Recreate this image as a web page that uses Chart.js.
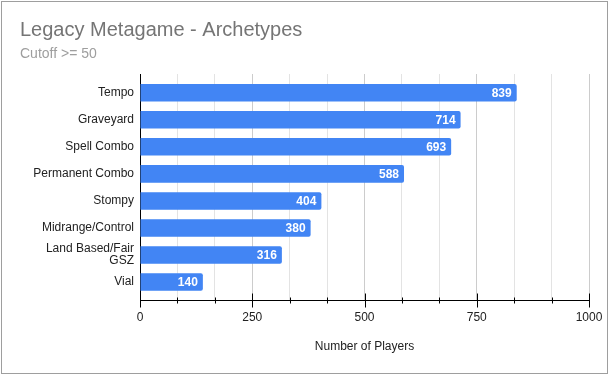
<!DOCTYPE html>
<html>
<head>
<meta charset="utf-8">
<script src="https://cdn.jsdelivr.net/npm/chart.js@4.4.1/dist/chart.umd.min.js"></script>
<style>
html,body{margin:0;padding:0;background:#fff;}
#wrap{width:609px;height:375px;position:relative;}
</style>
</head>
<body>
<div id="wrap"><canvas id="c" width="609" height="375"></canvas></div>
<script>
const categories = ["Tempo", "Graveyard", "Spell Combo", "Permanent Combo", "Stompy", "Midrange/Control", "Land Based/Fair GSZ", "Vial"];
const categoryLines = [["Tempo"], ["Graveyard"], ["Spell Combo"], ["Permanent Combo"], ["Stompy"], ["Midrange/Control"], ["Land Based/Fair", "GSZ"], ["Vial"]];
const players = [839, 714, 693, 588, 404, 380, 316, 140];
const xTickLabels = ["0", "250", "500", "750", "1000"];
const xMax = 1000;
const minorPerMajor = 3;

const FONT = "Arial, 'Liberation Sans', sans-serif";

const borderPlugin = {
  id: 'frame',
  afterDraw(chart) {
    const ctx = chart.ctx;
    ctx.save();
    ctx.strokeStyle = '#9e9e9e';
    ctx.lineWidth = 1;
    ctx.strokeRect(1.5, 1.5, 606, 372);
    ctx.restore();
  }
};

const tickPlugin = {
  id: 'axisTicks',
  afterDraw(chart) {
    const xs = chart.scales.x;
    const ctx = chart.ctx;
    const yAxis = Math.round(chart.chartArea.bottom) + 0.5;
    ctx.save();
    ctx.strokeStyle = '#000';
    ctx.lineWidth = 1;
    xs.ticks.forEach((t, i) => {
      const px = Math.round(xs.getPixelForValue(t.value)) + 0.5;
      const major = i % minorPerMajor === 0;
      const h = major ? 7 : 3;
      ctx.beginPath();
      ctx.moveTo(px, yAxis - h);
      ctx.lineTo(px, yAxis + h);
      ctx.stroke();
    });
    ctx.restore();
  }
};

const labelPlugin = {
  id: 'barLabels',
  afterDatasetsDraw(chart) {
    const ctx = chart.ctx;
    const meta = chart.getDatasetMeta(0);
    ctx.save();
    ctx.fillStyle = '#ffffff';
    ctx.font = "bold 12px " + FONT;
    ctx.textAlign = 'right';
    ctx.textBaseline = 'middle';
    meta.data.forEach((bar, i) => {
      ctx.fillText(String(players[i]), bar.x - 5, bar.y + 0.5);
    });
    ctx.restore();
  }
};

new Chart(document.getElementById('c'), {
  type: 'bar',
  data: {
    datasets: [{
      data: players.map((v, i) => ({ x: v, y: i })),
      backgroundColor: '#4285f4',
      borderWidth: 0,
      borderRadius: { topRight: 2, bottomRight: 2, topLeft: 0, bottomLeft: 0 },
      borderSkipped: 'start',
      barPercentage: 0.9,
      categoryPercentage: 0.72
    }]
  },
  options: {
    indexAxis: 'y',
    responsive: false,
    animation: false,
    devicePixelRatio: 1,
    layout: { padding: { left: 20, right: 20, top: 0, bottom: 20.8 } },
    plugins: {
      legend: { display: false },
      tooltip: { enabled: false },
      title: {
        display: true,
        text: 'Legacy Metagame - Archetypes',
        align: 'start',
        color: '#757575',
        font: { family: FONT, size: 20, weight: 'normal', lineHeight: 1.2 },
        padding: { top: 18, bottom: 0 }
      },
      subtitle: {
        display: true,
        text: 'Cutoff >= 50',
        align: 'start',
        color: '#9e9e9e',
        font: { family: FONT, size: 14, weight: 'normal', lineHeight: 1.2 },
        padding: { top: 3.5, bottom: 11.7 }
      }
    },
    scales: {
      x: {
        type: 'linear',
        position: 'bottom',
        min: 0,
        max: xMax,
        offset: false,
        afterBuildTicks(scale) {
          const n = (xTickLabels.length - 1) * minorPerMajor;
          const ticks = [];
          for (let i = 0; i <= n; i++) ticks.push({ value: xMax * i / n });
          scale.ticks = ticks;
        },
        afterFit(scale) { scale.paddingRight = 0; scale.paddingLeft = 0; },
        ticks: {
          autoSkip: false,
          maxRotation: 0,
          padding: 3.5,
          color: '#222222',
          font: { family: FONT, size: 12 },
          callback(value, index) {
            return index % minorPerMajor === 0 ? xTickLabels[index / minorPerMajor] : '';
          }
        },
        grid: {
          drawOnChartArea: true,
          drawTicks: true,
          tickLength: 7,
          tickColor: 'rgba(0,0,0,0)',
          color(ctx) {
            return ctx.index % minorPerMajor === 0 ? '#cccccc' : '#e3e3e3';
          }
        },
        border: { display: true, color: '#000000', width: 1 },
        title: {
          display: true,
          text: 'Number of Players',
          color: '#222222',
          font: { family: FONT, size: 12 },
          padding: { top: 11.4, bottom: 0 }
        }
      },
      y: {
        type: 'linear',
        reverse: true,
        offset: false,
        min: -0.696,
        max: 7.667,
        afterBuildTicks(scale) {
          scale.ticks = categories.map((c, i) => ({ value: i }));
        },
        afterFit(scale) { scale.width = 120; },
        ticks: {
          autoSkip: false,
          padding: 6,
          color: '#222222',
          font: { family: FONT, size: 12, lineHeight: 1.0 },
          callback(value) {
            const lines = categoryLines[value];
            return lines.length > 1 ? lines : lines[0];
          }
        },
        grid: { display: false, drawTicks: false },
        border: { display: true, color: '#000000', width: 1 }
      }
    }
  },
  plugins: [tickPlugin, labelPlugin, borderPlugin]
});
</script>
</body>
</html>
